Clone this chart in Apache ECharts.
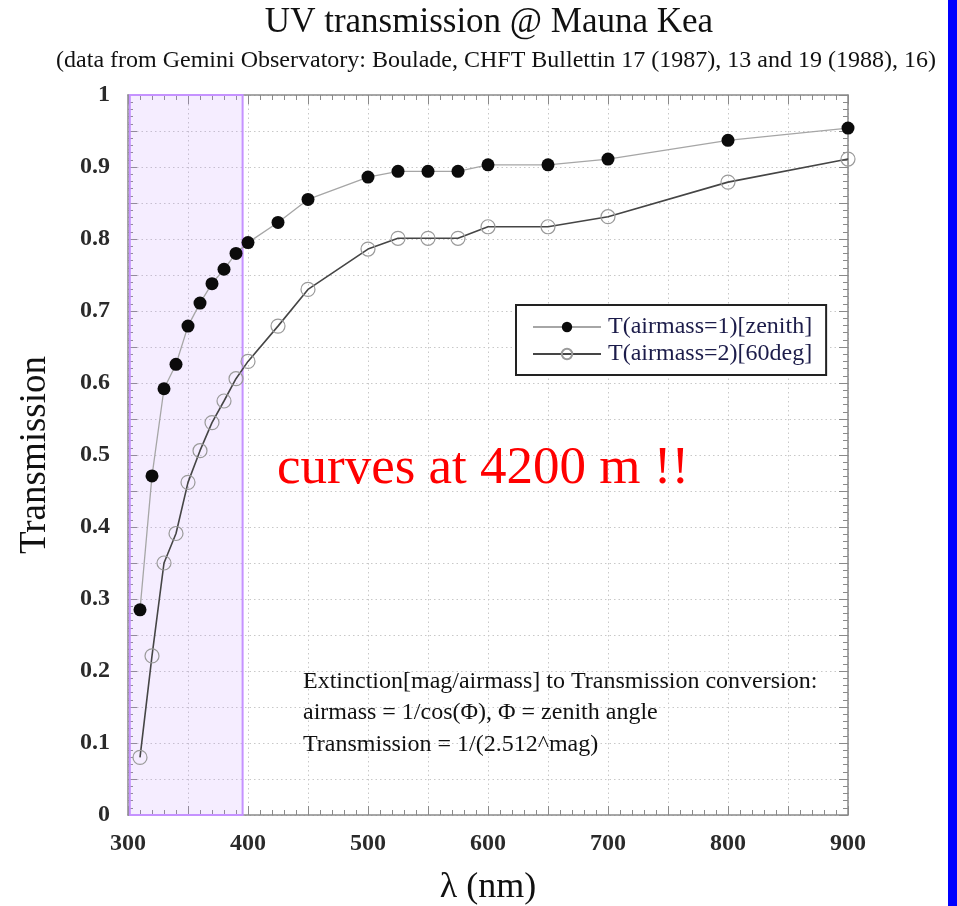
<!DOCTYPE html>
<html>
<head>
<meta charset="utf-8">
<title>UV transmission @ Mauna Kea</title>
<script src="https://cdn.jsdelivr.net/npm/echarts@6/dist/echarts.min.js"></script>
<style>
  html, body { margin: 0; padding: 0; background: #fff; }
  #chart { width: 957px; height: 906px; }
</style>
</head>
<body>
<div id="chart"></div>
<script>
// Wavelengths (nm) at which the transmission was tabulated
const wavelengths = [310, 320, 330, 340, 350, 360, 370, 380, 390, 400, 425, 450, 500, 525, 550, 575, 600, 650, 700, 800, 900];
// Transmission at the zenith (airmass 1)
const zenith = [0.285, 0.471, 0.592, 0.626, 0.679, 0.711, 0.738, 0.758, 0.780, 0.795, 0.823, 0.855, 0.886, 0.894, 0.894, 0.894, 0.903, 0.903, 0.911, 0.937, 0.954];
// Transmission at 60 deg from zenith (airmass 2)
const airmass2 = [0.080, 0.221, 0.350, 0.391, 0.462, 0.506, 0.545, 0.575, 0.606, 0.630, 0.679, 0.730, 0.786, 0.801, 0.801, 0.801, 0.817, 0.817, 0.831, 0.879, 0.911];

const seriesNames = ['T(airmass=1)[zenith]', 'T(airmass=2)[60deg]'];
const xTickLabels = [300, 400, 500, 600, 700, 800, 900];
const yTickLabels = [0, 0.1, 0.2, 0.3, 0.4, 0.5, 0.6, 0.7, 0.8, 0.9, 1];
// UV band highlighted on the plot (nm)
const uvBand = [301.5, 395.5];

const titleText = 'UV transmission @ Mauna Kea';
const subtitleText = '(data from Gemini Observatory: Boulade, CHFT Bullettin 17 (1987), 13 and 19 (1988), 16)';
const highlightText = 'curves at 4200 m !!';
const noteLines = [
  'Extinction[mag/airmass] to Transmission conversion:',
  'airmass = 1/cos(\u03A6), \u03A6 = zenith angle',
  'Transmission = 1/(2.512^mag)'
];

const SERIF = '"Liberation Serif", "DejaVu Serif", serif';
const FRAME = '#8a8a8a';

const pairs = (xs, ys) => xs.map((x, i) => [x, ys[i]]);
const near = (v, list) => list.some(t => Math.abs(t - v) < 1e-6);

const chart = echarts.init(document.getElementById('chart'), null, { renderer: 'canvas' });

const baseX = {
  type: 'value', min: 300, max: 900, interval: 50,
  axisLine: { show: true, onZero: false, lineStyle: { color: FRAME, width: 1.5 } },
  axisTick: { show: true, inside: true, length: 9, lineStyle: { color: FRAME, width: 1 } },
  minorTick: { show: true, splitNumber: 5, length: 5, lineStyle: { color: FRAME, width: 1 } },
  splitLine: { show: false },
  minorSplitLine: { show: false }
};
const baseY = {
  type: 'value', min: 0, max: 1, interval: 0.05,
  axisLine: { show: true, onZero: false, lineStyle: { color: FRAME, width: 1.5 } },
  axisTick: { show: true, inside: true, length: 9, lineStyle: { color: FRAME, width: 1 } },
  minorTick: { show: true, splitNumber: 5, length: 5, lineStyle: { color: FRAME, width: 1 } },
  splitLine: { show: false },
  minorSplitLine: { show: false }
};

const option = {
  backgroundColor: '#ffffff',
  animation: false,
  grid: { left: 128, right: 109, top: 95, bottom: 91, containLabel: false, outerBoundsMode: 'none' },
  xAxis: [
    Object.assign({}, baseX, {
      position: 'bottom',
      name: '\u03BB (nm)', nameLocation: 'middle', nameGap: 55,
      nameTextStyle: { fontFamily: SERIF, fontSize: 36, color: '#111' },
      splitLine: { show: true, lineStyle: { color: '#c8c8c8', type: [1.5, 3], width: 1 } },
      axisLabel: {
        margin: 17, fontFamily: SERIF, fontSize: 24, fontWeight: 'bold', color: '#2a2a2a',
        formatter: v => near(v, xTickLabels) ? String(v) : ''
      }
    }),
    Object.assign({}, baseX, { position: 'top', axisLabel: { show: false } })
  ],
  yAxis: [
    Object.assign({}, baseY, {
      position: 'left',
      name: 'Transmission', nameLocation: 'middle', nameGap: 74, nameRotate: 90,
      nameTextStyle: { fontFamily: SERIF, fontSize: 37, color: '#111' },
      splitLine: { show: true, lineStyle: { color: '#c8c8c8', type: [1.5, 3], width: 1 } },
      axisLabel: {
        margin: 18, fontFamily: SERIF, fontSize: 24, fontWeight: 'bold', color: '#2a2a2a',
        formatter: v => near(v, yTickLabels) ? String(Math.round(v * 10) / 10) : ''
      }
    }),
    Object.assign({}, baseY, { position: 'right', axisLabel: { show: false } })
  ],
  legend: {
    data: seriesNames,
    orient: 'vertical',
    left: 516, top: 305,
    padding: [10, 14, 9, 16],
    itemWidth: 68, itemHeight: 13, itemGap: 3,
    backgroundColor: '#fff',
    borderColor: '#222', borderWidth: 2, borderRadius: 0,
    textStyle: { fontFamily: SERIF, fontSize: 24, color: '#1c1c4a', padding: [0, 0, 0, 2] }
  },
  series: [
    {
      name: seriesNames[0],
      type: 'line',
      data: pairs(wavelengths, zenith),
      symbol: 'circle', symbolSize: 13,
      lineStyle: { color: '#a6a6a6', width: 1.3 },
      itemStyle: { color: '#0b0b0b', borderWidth: 0 },
      z: 3
    },
    {
      name: seriesNames[1],
      type: 'line',
      data: pairs(wavelengths, airmass2),
      symbol: 'circle', symbolSize: 14,
      lineStyle: { color: '#454545', width: 1.6 },
      itemStyle: { color: 'rgba(255,255,255,0)', borderColor: '#9a9a9a', borderWidth: 1.2 },
      z: 3
    },
    {
      // translucent UV band drawn over the curves
      name: 'uv-band',
      type: 'line',
      data: [],
      silent: true,
      z: 5,
      markArea: {
        silent: true,
        itemStyle: { color: 'rgba(190,140,255,0.16)', borderColor: '#c592ff', borderWidth: 2 },
        data: [[{ xAxis: uvBand[0], yAxis: 0 }, { xAxis: uvBand[1], yAxis: 1.003 }]]
      }
    }
  ],
  graphic: [
    { type: 'rect', z: 10, shape: { x: 948, y: 0, width: 9, height: 906 }, style: { fill: '#0000ff' } },
    { type: 'text', z: 10, x: 489, y: 5, style: { text: titleText, font: '35px ' + SERIF, fill: '#111', align: 'center', verticalAlign: 'top' } },
    { type: 'text', z: 10, x: 496, y: 49, style: { text: subtitleText, font: '24px ' + SERIF, fill: '#111', align: 'center', verticalAlign: 'top' } },
    { type: 'text', z: 10, x: 277, y: 469, style: { text: highlightText, font: '53px ' + SERIF, fill: '#ff0000', align: 'left', verticalAlign: 'middle' } },
    { type: 'text', z: 10, x: 303, y: 682, style: { text: noteLines[0], font: '24px ' + SERIF, fill: '#111', align: 'left', verticalAlign: 'middle' } },
    { type: 'text', z: 10, x: 303, y: 713, style: { text: noteLines[1], font: '24px ' + SERIF, fill: '#111', align: 'left', verticalAlign: 'middle' } },
    { type: 'text', z: 10, x: 303, y: 745, style: { text: noteLines[2], font: '24px ' + SERIF, fill: '#111', align: 'left', verticalAlign: 'middle' } }
  ]
};

chart.setOption(option);
</script>
</body>
</html>
